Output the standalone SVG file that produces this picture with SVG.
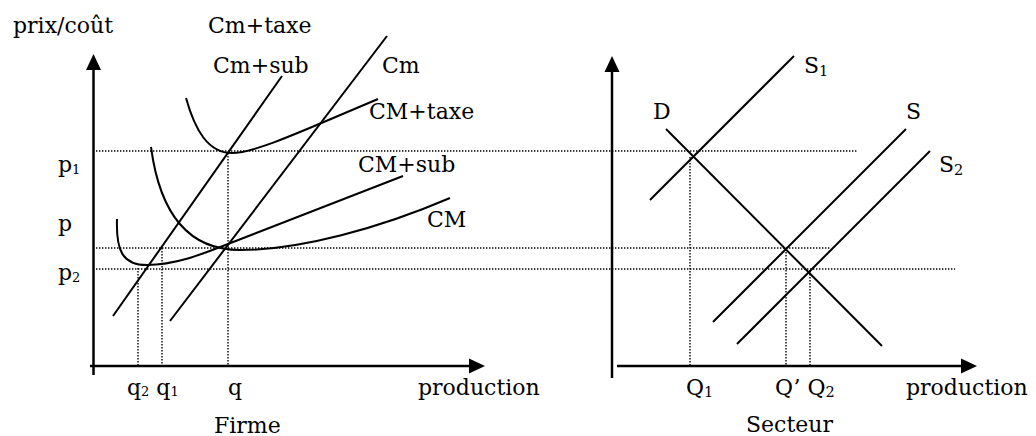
<svg xmlns="http://www.w3.org/2000/svg" xmlns:xlink="http://www.w3.org/1999/xlink" width="1036" height="436" viewBox="0 0 1036 436">
<style>
  .axis{stroke:#000;stroke-width:2.5;fill:none}
  .curve{stroke:#000;stroke-width:2;fill:none;stroke-linecap:butt}
  .dot{stroke:#000;stroke-width:1.4;fill:none;stroke-dasharray:1.4 1.6}
  .lbl{font-family:"DejaVu Serif","Liberation Serif",serif;font-size:22px;fill:#000}
  .sub{font-size:14.5px}
  .subs{font-size:13px}
</style>
<defs>
  <path id="arrUp" d="M0,0 L-7.5,16 L7.5,16 Z" fill="#000"/>
  <path id="arrRight" d="M0,0 L-16,-7.5 L-16,7.5 Z" fill="#000"/>
</defs>
<rect width="1036" height="436" fill="#fff"/>

<g id="guides">
  <line class="dot" x1="96" y1="151" x2="858" y2="151"/>
  <line class="dot" x1="96" y1="248" x2="830" y2="248"/>
  <line class="dot" x1="96" y1="269" x2="955" y2="269"/>
  <line class="dot" x1="138" y1="268" x2="138" y2="365"/>
  <line class="dot" x1="162" y1="248" x2="162" y2="365"/>
  <line class="dot" x1="228" y1="153" x2="228" y2="365"/>
  <line class="dot" x1="690" y1="157" x2="690" y2="365"/>
  <line class="dot" x1="786" y1="249" x2="786" y2="365"/>
  <line class="dot" x1="810" y1="271" x2="810" y2="365"/>
</g>

<g id="firme-axes">
  <line class="axis" x1="93.5" y1="375" x2="93.5" y2="68"/>
  <use xlink:href="#arrUp" href="#arrUp" x="93.5" y="54"/>
  <line class="axis" x1="90" y1="366" x2="471" y2="366"/>
  <use xlink:href="#arrRight" href="#arrRight" x="485" y="366"/>
</g>

<g id="secteur-axes">
  <line class="axis" x1="612" y1="378" x2="612" y2="70"/>
  <use xlink:href="#arrUp" href="#arrUp" x="612" y="56"/>
  <line class="axis" x1="617" y1="366" x2="963" y2="366"/>
  <use xlink:href="#arrRight" href="#arrRight" x="977" y="366"/>
</g>

<g id="connectors">
  <!-- Firme -->
  <line id="line-cmsub" class="curve" x1="282" y1="76" x2="113" y2="316"/>
  <line id="line-cm" class="curve" x1="387" y1="36" x2="170" y2="321"/>
  <path id="curve-cmtaxe" class="curve" d="M186,98 C195,130 208,153 232,153 C255,153 300,132 378,99"/>
  <path id="curve-cm" class="curve" d="M151,147 C160,215 190,250 240,250 C300,250 380,228 450,198"/>
  <path id="curve-cmsub" class="curve" d="M117,219 C116,250 122,265 147,265 C175,265 200,255 228,244 L403,176"/>
  <!-- Secteur -->
  <line id="line-s1" class="curve" x1="794" y1="56" x2="650" y2="200"/>
  <line id="line-d" class="curve" x1="666" y1="129" x2="882" y2="346"/>
  <line id="line-s" class="curve" x1="906" y1="129" x2="713" y2="322"/>
  <line id="line-s2" class="curve" x1="930" y1="151" x2="737" y2="344"/>
</g>

<g id="labels-firme" class="lbl">
  <text x="13" y="33">prix/coût</text>
  <text x="208" y="33">Cm+taxe</text>
  <text x="213" y="73">Cm+sub</text>
  <text x="382" y="73">Cm</text>
  <text x="369" y="119">CM+taxe</text>
  <text x="358" y="172">CM+sub</text>
  <text x="427" y="227">CM</text>
  <text x="58" y="172">p<tspan class="subs" dy="2">1</tspan></text>
  <text x="58" y="231">p</text>
  <text x="58" y="280">p<tspan class="subs" dy="2">2</tspan></text>
  <text x="127" y="395">q<tspan class="subs" dy="1">2</tspan><tspan dy="-1"> q</tspan><tspan class="subs" dy="1">1</tspan></text>
  <text x="228" y="395">q</text>
  <text x="418" y="395">production</text>
  <text x="214" y="433">Firme</text>
</g>

<g id="labels-secteur" class="lbl">
  <text x="804" y="73">S<tspan class="sub" dy="3">1</tspan></text>
  <text x="653" y="119">D</text>
  <text x="906" y="119">S</text>
  <text x="939" y="172">S<tspan class="sub" dy="3">2</tspan></text>
  <text x="686" y="395">Q<tspan class="sub" dy="2">1</tspan></text>
  <text x="775" y="395">Q’ Q<tspan class="sub" dy="2">2</tspan></text>
  <text x="906" y="395">production</text>
  <text x="746" y="432">Secteur</text>
</g>
</svg>
